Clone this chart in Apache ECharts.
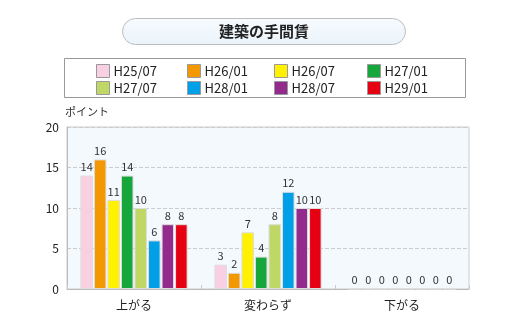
<!DOCTYPE html>
<html><head><meta charset="utf-8">
<script src="https://cdn.jsdelivr.net/npm/echarts@6/dist/echarts.min.js"></script>
<style>html,body{margin:0;padding:0;background:#fff}#c{width:520px;height:327px}</style>
</head><body><div id="c"></div>
<script>
const categories = ['上がる', '変わらず', '下がる'];
const seriesNames = ['H25/07', 'H26/01', 'H26/07', 'H27/01', 'H27/07', 'H28/01', 'H28/07', 'H29/01'];
const colors = ['#f9d0e2', '#f39800', '#fff100', '#17a63c', '#bfd765', '#00a0e9', '#932b8c', '#e60012'];
const v_H25_07 = [14, 3, 0];
const v_H26_01 = [16, 2, 0];
const v_H26_07 = [11, 7, 0];
const v_H27_01 = [14, 4, 0];
const v_H27_07 = [10, 8, 0];
const v_H28_01 = [6, 12, 0];
const v_H28_07 = [8, 10, 0];
const v_H29_01 = [8, 10, 0];
const values = [v_H25_07, v_H26_01, v_H26_07, v_H27_01, v_H27_07, v_H28_01, v_H28_07, v_H29_01];
const yTicks = [0, 5, 10, 15, 20];

const font = '"Noto Sans CJK JP", "Noto Sans", sans-serif';
const chart = echarts.init(document.getElementById('c'));
const legendCols = [96, 187, 274, 367];
const legendRows = [64, 81];
const legends = seriesNames.map((n, i) => ({
  left: legendCols[i % 4], top: legendRows[Math.floor(i / 4)], data: [n],
  itemWidth: 13, itemHeight: 13, itemGap: 4, icon: 'rect', padding: 0,
  itemStyle: { borderColor: '#999', borderWidth: 1 },
  textStyle: { fontSize: 13, color: '#222', fontFamily: font, padding: [0, 0, 0, -1] }
}));
chart.setOption({
  animation: false,
  textStyle: { fontFamily: font },
  graphic: [
    { type: 'rect', shape: { x: 122.5, y: 18.5, width: 283, height: 26, r: 13 },
      style: { fill: { type: 'linear', x: 0, y: 0, x2: 0, y2: 1, colorStops: [{ offset: 0, color: '#f7fbfe' }, { offset: 1, color: '#eaf4fb' }] }, stroke: '#bbb', lineWidth: 1 } },
    { type: 'text', x: 264, y: 31, style: { text: '建築の手間賃', fontSize: 15, fontWeight: 'bold', fill: '#222', align: 'center', verticalAlign: 'middle', fontFamily: font } },
    { type: 'rect', shape: { x: 64.5, y: 58.5, width: 401, height: 39 }, style: { fill: '#fff', stroke: '#999', lineWidth: 1 }, z: -1 }
  ],
  legend: legends,
  grid: { left: 67, right: 51, top: 127, bottom: 38, show: true, backgroundColor: '#f3f9fd', borderColor: '#ccc', borderWidth: 1 },
  xAxis: {
    type: 'category', data: categories,
    axisLine: { lineStyle: { color: '#bbb' } },
    axisTick: { show: true, inside: true, length: 4, lineStyle: { color: '#ccc' } },
    axisLabel: { color: '#222', fontSize: 12, margin: 10 }
  },
  yAxis: {
    type: 'value', min: yTicks[0], max: yTicks[yTicks.length - 1], interval: 5,
    name: 'ポイント', nameLocation: 'end', nameGap: 10,
    nameTextStyle: { color: '#333', fontSize: 11, align: 'left', padding: [0, 0, 0, -2] },
    axisLine: { show: true, lineStyle: { color: '#bbb' } },
    axisTick: { show: false },
    axisLabel: { color: '#222', fontSize: 12, margin: 8 },
    splitLine: { lineStyle: { color: '#ccc', type: 'dashed' } }
  },
  series: seriesNames.map((n, i) => ({
    name: n, type: 'bar', data: values[i],
    barGap: '8%', barCategoryGap: '20%',
    itemStyle: { color: colors[i], borderColor: '#ddd', borderWidth: 1 },
    label: { show: true, position: 'top', distance: 3, color: '#333', fontSize: 11 }
  }))
});
</script></body></html>
